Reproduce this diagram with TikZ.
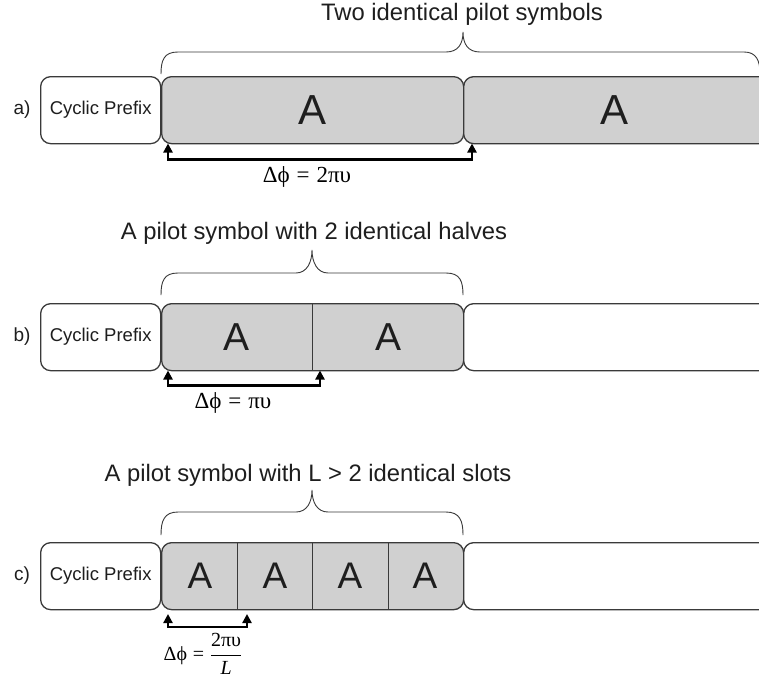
\documentclass[tikz,border=0pt]{standalone}
\usepackage{fontspec}
\setmainfont{Liberation Sans}
\newfontfamily\serf{Liberation Serif}
\usetikzlibrary{arrows.meta}
\definecolor{bcol}{HTML}{3A3A3A}
\definecolor{gfill}{HTML}{D0D0D0}
\definecolor{tcol}{HTML}{1E1E1E}
\tikzset{
  box/.style={draw=bcol, line width=1.3pt, rounded corners=10pt, minimum height=67pt,
              inner sep=0pt, anchor=north west},
  cpbox/.style={box, fill=white, minimum width=120pt, text=tcol,
              font=\fontsize{18.5}{20}\selectfont},
  gbox/.style={box, fill=gfill},
  wbox/.style={box, fill=white},
  lbl/.style={text=tcol, font=\fontsize{19}{21}\selectfont},
  ttl/.style={text=tcol, font=\fontsize{23.8}{26}\selectfont},
  bigA/.style={text=tcol, font=\fontsize{#1}{#1}\selectfont},
  brc/.style={draw=bcol, line width=0.9pt},
  divl/.style={draw=bcol, line width=0.9pt},
  darr/.style={draw=black, line width=2.3pt, line join=miter,
               {Triangle[length=9pt,width=9pt]}-{Triangle[length=9pt,width=9pt]}},
  fml/.style={text=black, font=\fontsize{23}{27}\selectfont\serf}
}
\newcommand\eqsp{\hspace{0.3em}=\hspace{0.3em}}
\begin{document}
\begin{tikzpicture}[x=1pt,y=-1pt]
\useasboundingbox (0,0) rectangle (759,686);
\fill[white] (0,0) rectangle (759,686);

% ---------------- Row a ----------------
\node[ttl] (ta) at (462,14) {Two identical pilot symbols};
\draw[brc] (161,74) .. controls (161,60) and (164,52) .. (178,52) -- (446,52)
   .. controls (458,52) and (463,44) .. (463,32)
   .. controls (463,44) and (468,52) .. (480,52) -- (744,52)
   .. controls (756,52) and (760,60) .. (760,74);
\node[lbl] (la) at (22,110) {a)};
\node[cpbox] (cpa) at (40,76) {Cyclic Prefix};
\node[gbox, minimum width=302pt] (a1) at (161,76) {};
\node[gbox, minimum width=310pt] (a2) at (463,76) {};
\node[bigA=42] (aA1) at (a1.center) {A};
\node[bigA=42] (aA2) at (614,110) {A};
\coordinate (pa1) at (168,143.5);
\coordinate (pa2) at (472,143.5);
\draw[darr] (pa1) -- ++(0,16) -| (pa2);
\node[fml] (fa) at (307,177) {Δϕ\eqsp2πυ};

% ---------------- Row b ----------------
\node[ttl] (tb) at (314,233) {A pilot symbol with 2 identical halves};
\draw[brc] (161,295) .. controls (161,281) and (164,273) .. (178,273) -- (296,273)
   .. controls (307,273) and (312,262) .. (312,250)
   .. controls (312,262) and (317,273) .. (328,273) -- (446,273)
   .. controls (460,273) and (463,281) .. (463,295);
\node[lbl] (lb) at (22,337) {b)};
\node[cpbox] (cpb) at (40,303) {Cyclic Prefix};
\node[gbox, minimum width=302pt] (b1) at (161,303) {};
\node[wbox, minimum width=310pt] (b2) at (463,303) {};
\draw[divl] (312,303) -- (312,370);
\node[bigA=39] (bA1) at (237,337) {A};
\node[bigA=39] (bA2) at (388,337) {A};
\coordinate (pb1) at (168,370.5);
\coordinate (pb2) at (320,370.5);
\draw[darr] (pb1) -- ++(0,15) -| (pb2);
\node[fml] (fb) at (233,403) {Δϕ\eqsp πυ};

% ---------------- Row c ----------------
\node[ttl] (tc) at (308,475) {A pilot symbol with L > 2 identical slots};
\draw[brc] (161,535) .. controls (161,521) and (164,512) .. (178,512) -- (296,512)
   .. controls (307,512) and (312,502) .. (312,490)
   .. controls (312,502) and (317,512) .. (328,512) -- (446,512)
   .. controls (460,512) and (463,521) .. (463,535);
\node[lbl] (lc) at (22,576) {c)};
\node[cpbox] (cpc) at (40,542) {Cyclic Prefix};
\node[gbox, minimum width=302pt] (c1) at (161,542) {};
\node[wbox, minimum width=310pt] (c2) at (463,542) {};
\draw[divl] (237,542) -- (237,609);
\draw[divl] (312,542) -- (312,609);
\draw[divl] (388,542) -- (388,609);
\node[bigA=37] (cA1) at (200,576) {A};
\node[bigA=37] (cA2) at (275,576) {A};
\node[bigA=37] (cA3) at (350,576) {A};
\node[bigA=37] (cA4) at (425,576) {A};
\coordinate (pc1) at (168,614);
\coordinate (pc2) at (247,614);
\draw[darr] (pc1) -- ++(0,13) -| (pc2);
\node[fml, font=\fontsize{20}{24}\selectfont\serf] (fc) at (203,654)
  {$\hbox{\serf Δϕ}\mathrel{\hbox{\serf =}}\displaystyle\frac{\hbox{\serf 2πυ}}{\hbox{\serf\itshape L}}$};
\end{tikzpicture}
\end{document}
